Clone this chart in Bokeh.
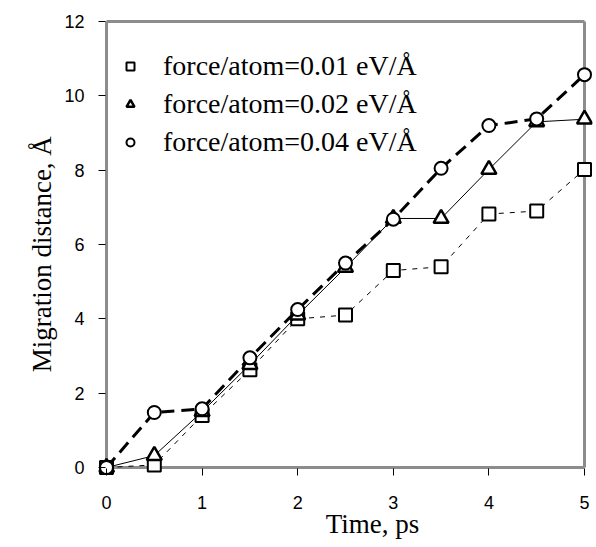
from bokeh.plotting import figure
from bokeh.models import Range1d, Legend, LegendItem, FixedTicker
from bokeh.embed import file_html
from bokeh.resources import INLINE

time_ps = [0, 0.5, 1, 1.5, 2, 2.5, 3, 3.5, 4, 4.5, 5]
dist_001 = [0.0, 0.07, 1.4, 2.63, 4.0, 4.1, 5.3, 5.4, 6.82, 6.9, 8.02]
dist_002 = [0.0, 0.32, 1.5, 2.77, 4.1, 5.38, 6.7, 6.7, 8.02, 9.3, 9.37]
dist_004 = [0.0, 1.48, 1.58, 2.95, 4.25, 5.5, 6.68, 8.05, 9.2, 9.38, 10.57]
labels = ["force/atom=0.01 eV/Å", "force/atom=0.02 eV/Å", "force/atom=0.04 eV/Å"]
x_ticks = [0, 1, 2, 3, 4, 5]
y_ticks = [0, 2, 4, 6, 8, 10, 12]
x_lim = (0, 5)
y_lim = (0, 12)
NB = "\u00a0"

p = figure(frame_width=494, frame_height=456, min_border_left=98, min_border_right=2,
           min_border_top=19, min_border_bottom=70,
           x_range=Range1d(-0.08368, 5.08368), y_range=Range1d(-0.2152, 12.0538),
           output_backend="svg", toolbar_location=None)
p.background_fill_color = "white"
p.border_fill_color = "white"
p.outline_line_color = None
p.grid.visible = False

for ax in (p.xaxis[0], p.yaxis[0]):
    ax.axis_line_color = None
    ax.major_tick_line_color = "black"
    ax.major_tick_line_width = 1
    ax.major_tick_in = 7
    ax.major_tick_out = 0
    ax.minor_tick_line_color = None
    ax.major_label_text_font = "Liberation Sans"
    ax.major_label_text_font_size = "18px"
    ax.major_label_text_color = "black"
    ax.axis_label_text_font = "Liberation Serif"
    ax.axis_label_text_font_size = "27px"
    ax.axis_label_text_font_style = "normal"
    ax.axis_label_text_color = "black"

p.xaxis.ticker = FixedTicker(ticks=x_ticks)
p.yaxis.ticker = FixedTicker(ticks=y_ticks)
p.xaxis.axis_label = NB * 8 + "Time, ps"
p.yaxis.axis_label = "Migration distance, Å" + NB * 2
p.xaxis.major_label_standoff = 20
p.yaxis.major_label_standoff = 14
p.xaxis.axis_label_standoff = -3
p.yaxis.axis_label_standoff = 4

# gray frame around the data limits
border = p.segment(x0=[x_lim[0], x_lim[1], x_lim[0], x_lim[0]],
                   y0=[y_lim[0], y_lim[0], y_lim[0], y_lim[1]],
                   x1=[x_lim[0], x_lim[1], x_lim[1], x_lim[1]],
                   y1=[y_lim[1], y_lim[1], y_lim[0], y_lim[1]],
                   line_color="#8c8c8c", line_width=3, level="underlay")

l1 = p.line(time_ps, dist_001, line_color="black", line_width=1, line_dash="5 6")
m1 = p.scatter(time_ps, dist_001, marker="square", size=13, fill_color="white",
               line_color="black", line_width=2)
l2 = p.line(time_ps, dist_002, line_color="black", line_width=1)
m2 = p.scatter(time_ps, dist_002, marker="triangle", size=15, fill_color="white",
               line_color="black", line_width=2.5)
l3 = p.line(time_ps, dist_004, line_color="black", line_width=3, line_dash="13 7")
m3 = p.scatter(time_ps, dist_004, marker="circle", size=13, fill_color="white",
               line_color="black", line_width=2)

legend = Legend(items=[LegendItem(label=labels[0], renderers=[m1]),
                       LegendItem(label=labels[1], renderers=[m2]),
                       LegendItem(label=labels[2], renderers=[m3])],
                location=(22, 317))
legend.border_line_color = None
legend.background_fill_alpha = 0
legend.label_text_font = "Liberation Serif"
legend.label_text_font_size = "28px"
legend.label_text_color = "black"
legend.label_height = 28
legend.glyph_height = 28
legend.spacing = 6
legend.glyph_width = 20
legend.label_standoff = 23
legend.margin = 0
legend.padding = 0
p.add_layout(legend)

open("out.html", "w").write(file_html(p, INLINE))
